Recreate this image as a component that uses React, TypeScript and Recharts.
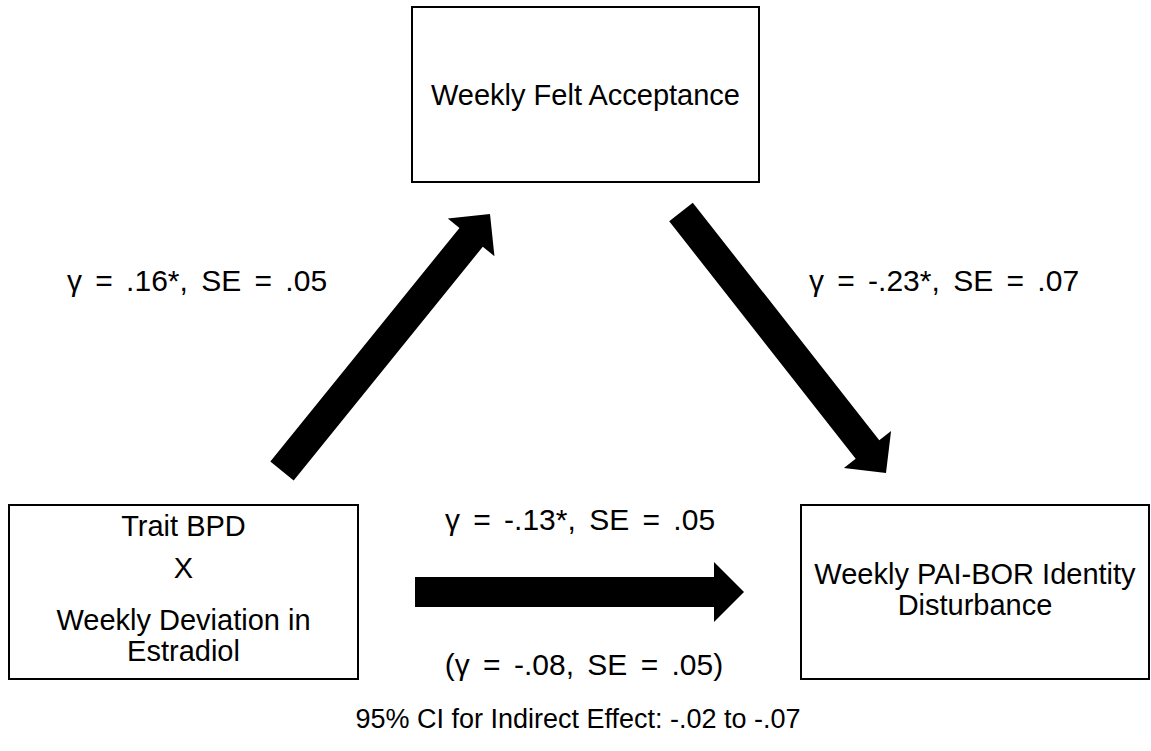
import { ComposedChart, ReferenceArea, ReferenceLine, Scatter, XAxis, YAxis } from "recharts";

const WIDTH = 1151;
const HEIGHT = 751;
const FONT = '"Liberation Sans", Arial, Helvetica, sans-serif';
const BOX_FONT_SIZE = 29;
const LABEL_FONT_SIZE = 30;

// Variables of the mediation model. Box corners are in layout units (x right, y down).
const nodeLabels = [
  ["Weekly Felt Acceptance"],
  ["Trait BPD", "X", "Weekly Deviation in", "Estradiol"],
  ["Weekly PAI-BOR Identity", "Disturbance"],
];
const nodeX: [number, number][] = [
  [412, 759],
  [9, 358],
  [801, 1149],
];
const nodeY: [number, number][] = [
  [7, 182],
  [505, 679],
  [505, 679],
];
// baseline of each text line, relative to the middle of its box
const nodeLineDy = [[10], [-56, -14, 38, 69], [-8, 23]];

// Paths: a (X -> M), b (M -> Y), c' (X -> Y)
const pathFrom: [number, number][] = [
  [282, 471],
  [681, 212],
  [415, 592],
];
const pathTo: [number, number][] = [
  [490, 214],
  [886, 473],
  [744, 592],
];

const coefLabels = [
  "γ = .16*, SE = .05",
  "γ = -.23*, SE = .07",
  "γ = -.13*, SE = .05",
  "(γ = -.08, SE = .05)",
  "95% CI for Indirect Effect: -.02 to -.07",
];
const coefX = [197, 944, 580, 584, 578];
const coefY = [291, 291, 530, 675, 728];

const SHAFT = 30;
const HEAD_W = 60;
const HEAD_L = 30;

function ArrowShape(p: any) {
  const { x1, y1, x2, y2 } = p;
  const dx = x2 - x1;
  const dy = y2 - y1;
  const len = Math.hypot(dx, dy) || 1;
  const ux = dx / len;
  const uy = dy / len;
  const nx = -uy;
  const ny = ux;
  const bx = x2 - ux * HEAD_L;
  const by = y2 - uy * HEAD_L;
  const s = SHAFT / 2;
  const h = HEAD_W / 2;
  const pts = [
    [x1 + nx * s, y1 + ny * s],
    [bx + nx * s, by + ny * s],
    [bx + nx * h, by + ny * h],
    [x2, y2],
    [bx - nx * h, by - ny * h],
    [bx - nx * s, by - ny * s],
    [x1 - nx * s, y1 - ny * s],
  ];
  return <polygon points={pts.map((q) => q.join(",")).join(" ")} fill="#000" />;
}

function NodeBox(p: any) {
  const { x, y, width, height, lines, dys } = p;
  const mid = y + height / 2;
  return (
    <g>
      <rect x={x} y={y} width={width} height={height} fill="#fff" stroke="#000" strokeWidth={2} />
      {lines.map((t: string, i: number) => (
        <text
          key={t}
          x={x + width / 2}
          y={mid + dys[i]}
          textAnchor="middle"
          fontFamily={FONT}
          fontSize={BOX_FONT_SIZE}
          fill="#000"
        >
          {t}
        </text>
      ))}
    </g>
  );
}

function CoefText(p: any) {
  const isNote = p.payload.text.startsWith("95%");
  return (
    <text
      x={p.cx}
      y={p.cy}
      textAnchor="middle"
      fontFamily={FONT}
      fontSize={isNote ? 27 : LABEL_FONT_SIZE}
      wordSpacing={isNote ? 0 : 5}
      fill="#000"
    >
      {p.payload.text}
    </text>
  );
}

export default function App() {
  const labelData = coefLabels.map((text, i) => ({ x: coefX[i], y: coefY[i], text }));

  return (
    <div style={{ position: "absolute", left: 0, top: 0, background: "#fff" }}>
      <ComposedChart width={WIDTH} height={HEIGHT} margin={{ top: 0, right: 0, bottom: 0, left: 0 }}>
        <XAxis dataKey="x" type="number" domain={[0, WIDTH]} hide />
        <YAxis dataKey="y" type="number" domain={[0, HEIGHT]} reversed hide />
        {nodeLabels.map((lines, i) => (
          <ReferenceArea
            key={lines[0]}
            x1={nodeX[i][0]}
            x2={nodeX[i][1]}
            y1={nodeY[i][0]}
            y2={nodeY[i][1]}
            ifOverflow="visible"
            shape={(p: any) => <NodeBox {...p} lines={lines} dys={nodeLineDy[i]} />}
          />
        ))}
        {pathFrom.map((from, i) => (
          <ReferenceLine
            key={`path-${i}`}
            segment={[
              { x: from[0], y: from[1] },
              { x: pathTo[i][0], y: pathTo[i][1] },
            ]}
            ifOverflow="visible"
            shape={(p: any) => <ArrowShape {...p} />}
          />
        ))}
        <Scatter data={labelData} shape={(p: any) => <CoefText {...p} />} isAnimationActive={false} />
      </ComposedChart>
    </div>
  );
}
